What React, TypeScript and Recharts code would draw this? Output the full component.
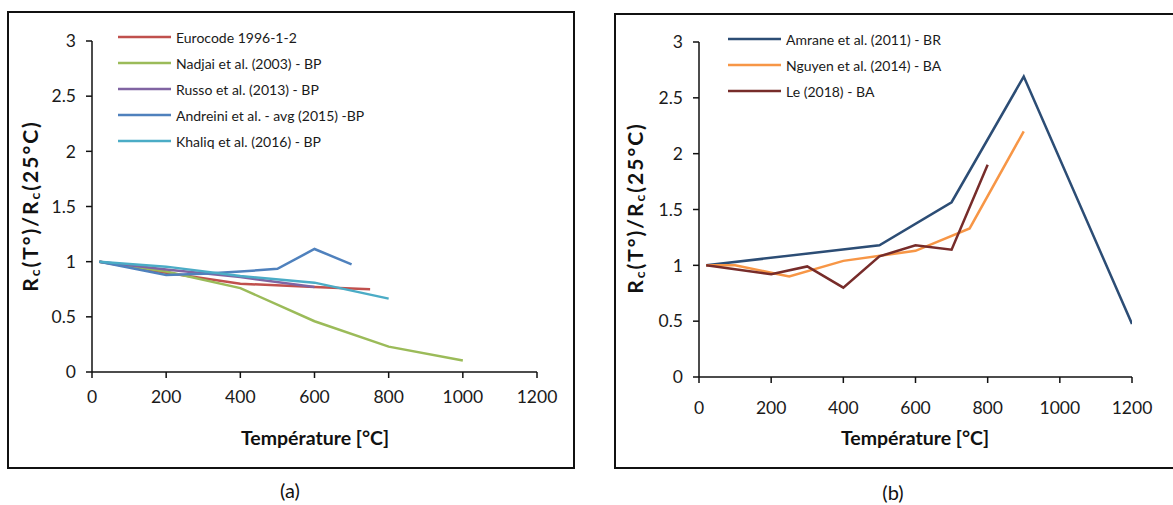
import React from 'react';
import { LineChart, Line, XAxis, YAxis, Legend } from 'recharts';

const FONT = 'Lato, "Open Sans", sans-serif';

const xTicks = [0, 200, 400, 600, 800, 1000, 1200];
const yTicks = [0, 0.5, 1, 1.5, 2, 2.5, 3];

// Chart (a)
const eurocodeT = [20, 200, 400, 600, 750];
const eurocodeV = [1, 0.9, 0.8, 0.77, 0.75];
const nadjaiT = [20, 200, 400, 600, 800, 1000];
const nadjaiV = [1, 0.91, 0.76, 0.46, 0.23, 0.105];
const russoT = [20, 200, 400, 600];
const russoV = [1, 0.93, 0.86, 0.77];
const andreiniT = [20, 200, 300, 400, 500, 600, 700];
const andreiniV = [1, 0.88, 0.89, 0.91, 0.935, 1.115, 0.975];
const khaliqT = [20, 200, 400, 600, 800];
const khaliqV = [1, 0.955, 0.87, 0.81, 0.665];

// Chart (b)
const amraneT = [20, 500, 700, 900, 1200];
const amraneV = [1, 1.18, 1.565, 2.69, 0.475];
const nguyenT = [20, 100, 250, 400, 600, 750, 900];
const nguyenV = [1, 1.0, 0.9, 1.04, 1.13, 1.33, 2.2];
const leT = [20, 200, 300, 400, 500, 600, 700, 800];
const leV = [1, 0.92, 0.99, 0.8, 1.08, 1.18, 1.14, 1.9];

const pts = (t: number[], v: number[]) => t.map((x, i) => ({ x, y: v[i] }));

type Series = { name: string; color: string; data: { x: number; y: number }[] };

const seriesA: Series[] = [
  { name: 'Eurocode 1996-1-2', color: '#C0504D', data: pts(eurocodeT, eurocodeV) },
  { name: 'Nadjai et al. (2003) - BP', color: '#9BBB59', data: pts(nadjaiT, nadjaiV) },
  { name: 'Russo et al. (2013) - BP', color: '#8064A2', data: pts(russoT, russoV) },
  { name: 'Andreini et al. - avg (2015) -BP', color: '#4F81BD', data: pts(andreiniT, andreiniV) },
  { name: 'Khaliq et al. (2016) - BP', color: '#4BACC6', data: pts(khaliqT, khaliqV) },
];

const seriesB: Series[] = [
  { name: 'Amrane et al. (2011) - BR', color: '#2C4D75', data: pts(amraneT, amraneV) },
  { name: 'Nguyen et al. (2014) - BA', color: '#F79646', data: pts(nguyenT, nguyenV) },
  { name: 'Le (2018) - BA', color: '#772C2A', data: pts(leT, leV) },
];

const makeLegend = (series: Series[]) => () => (
  <div style={{ fontFamily: FONT, fontSize: 14, color: '#1a1a1a' }}>
    {series.map((s) => (
      <div key={s.name} style={{ display: 'flex', alignItems: 'center', height: 26 }}>
        <svg width={53} height={4} style={{ display: 'block' }}>
          <line x1={0} y1={2} x2={53} y2={2} stroke={s.color} strokeWidth={2.5} />
        </svg>
        <span style={{ marginLeft: 5, whiteSpace: 'nowrap' }}>{s.name}</span>
      </div>
    ))}
  </div>
);

const yTitle = (cx: number, cy: number) => () => (
  <text
    x={cx}
    y={cy}
    transform={`rotate(-90 ${cx} ${cy})`}
    textAnchor="middle"
    dominantBaseline="central"
    fontFamily={FONT}
    fontWeight={700}
    fontSize={21}
    letterSpacing={2}
    fill="#111"
  >
    R<tspan dy={5} fontSize={14}>c</tspan>
    <tspan dy={-5}>(T°)/R</tspan>
    <tspan dy={5} fontSize={14}>c</tspan>
    <tspan dy={-5}>(25°C)</tspan>
  </text>
);

const xTitle = (cx: number, cy: number) => () => (
  <text
    x={cx}
    y={cy}
    textAnchor="middle"
    dominantBaseline="central"
    fontFamily={FONT}
    fontWeight={700}
    fontSize={19.5}
    fill="#111"
  >
    Température [°C]
  </text>
);

const tickStyle = { fontFamily: FONT, fontSize: 17.5, fill: '#1a1a1a' };

export default function App() {
  return (
    <div
      style={{
        position: 'absolute',
        left: 0,
        top: 0,
        width: 1173,
        height: 505,
        background: '#fff',
        overflow: 'hidden',
        fontFamily: FONT,
      }}
    >
      <div
        style={{
          position: 'absolute',
          left: 7,
          top: 11,
          width: 568,
          height: 458,
          border: '2px solid #111',
          boxSizing: 'border-box',
        }}
      />
      <div
        style={{
          position: 'absolute',
          left: 614,
          top: 13,
          width: 580,
          height: 456,
          border: '2px solid #111',
          boxSizing: 'border-box',
        }}
      />

      <div style={{ position: 'absolute', left: 0, top: 0 }}>
        <LineChart width={600} height={505} margin={{ top: 41, right: 63, bottom: 103, left: 0 }}>
          <XAxis
            dataKey="x"
            type="number"
            domain={[0, 1200]}
            ticks={xTicks}
            interval={0}
            allowDataOverflow
            height={30}
            stroke="#111"
            strokeWidth={1.5}
            tickSize={6}
            tickMargin={13}
            tick={tickStyle}
            label={{ content: xTitle(315, 437) }}
          />
          <YAxis
            type="number"
            domain={[0, 3]}
            ticks={yTicks}
            interval={0}
            width={92}
            stroke="#111"
            strokeWidth={1.5}
            tickSize={6}
            tickMargin={10}
            tick={tickStyle}
            label={{ content: yTitle(29, 206) }}
          />
          <Legend
            layout="vertical"
            verticalAlign="middle"
            align="center"
            content={makeLegend(seriesA)}
            wrapperStyle={{ position: 'absolute', left: 118, top: 24, width: 280 }}
          />
          {seriesA.map((s) => (
            <Line
              key={s.name}
              name={s.name}
              data={s.data}
              dataKey="y"
              type="linear"
              stroke={s.color}
              strokeWidth={2.5}
              dot={false}
              isAnimationActive={false}
            />
          ))}
        </LineChart>
      </div>

      <div style={{ position: 'absolute', left: 600, top: 0 }}>
        <LineChart width={573} height={505} margin={{ top: 42, right: 41, bottom: 98, left: 0 }}>
          <XAxis
            dataKey="x"
            type="number"
            domain={[0, 1200]}
            ticks={xTicks}
            interval={0}
            allowDataOverflow
            height={30}
            stroke="#111"
            strokeWidth={1.5}
            tickSize={6}
            tickMargin={19}
            tick={tickStyle}
            label={{ content: xTitle(315, 437) }}
          />
          <YAxis
            type="number"
            domain={[0, 3]}
            ticks={yTicks}
            interval={0}
            width={99}
            stroke="#111"
            strokeWidth={1.5}
            tickSize={6}
            tickMargin={10}
            tick={tickStyle}
            label={{ content: yTitle(34, 208) }}
          />
          <Legend
            layout="vertical"
            verticalAlign="middle"
            align="center"
            content={makeLegend(seriesB)}
            wrapperStyle={{ position: 'absolute', left: 128, top: 26, width: 240 }}
          />
          {seriesB.map((s) => (
            <Line
              key={s.name}
              name={s.name}
              data={s.data}
              dataKey="y"
              type="linear"
              stroke={s.color}
              strokeWidth={2.5}
              dot={false}
              isAnimationActive={false}
            />
          ))}
        </LineChart>
      </div>

      <div
        style={{
          position: 'absolute',
          left: 290,
          top: 490,
          transform: 'translate(-50%, -50%)',
          fontSize: 20,
          color: '#111',
        }}
      >
        (a)
      </div>
      <div
        style={{
          position: 'absolute',
          left: 893,
          top: 492,
          transform: 'translate(-50%, -50%)',
          fontSize: 20,
          color: '#111',
        }}
      >
        (b)
      </div>
    </div>
  );
}
